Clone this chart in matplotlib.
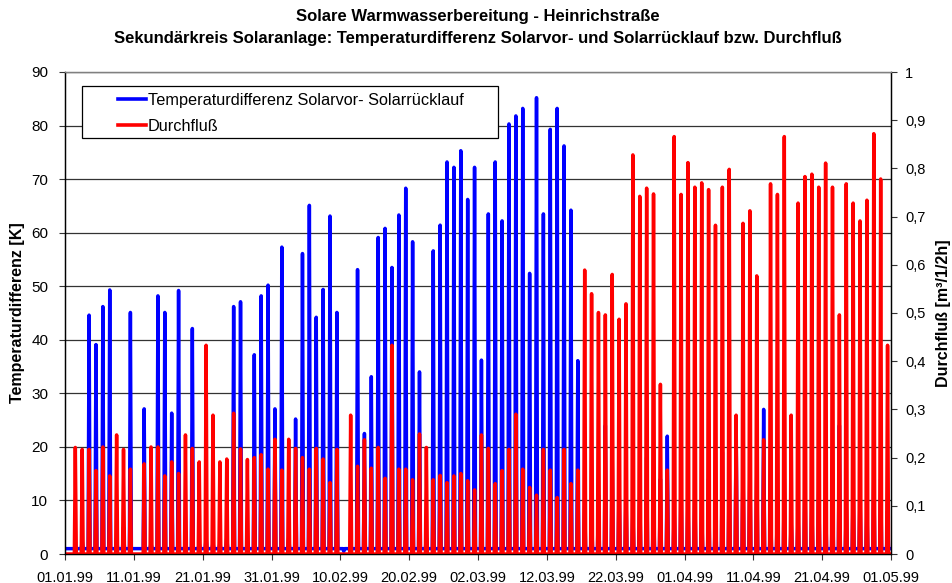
import matplotlib
matplotlib.use("Agg")
import matplotlib.pyplot as plt
from matplotlib.patches import Rectangle
import numpy as np

plt.rcParams['font.family'] = ['Liberation Sans', 'DejaVu Sans']

TITLE_1 = "Solare Warmwasserbereitung - Heinrichstraße"
TITLE_2 = "Sekundärkreis Solaranlage: Temperaturdifferenz Solarvor- und Solarrücklauf bzw. Durchfluß"
LEFT_LABEL = "Temperaturdifferenz [K]"
RIGHT_LABEL = "Durchfluß [m³/1/2h]"
LEGEND_LABELS = ["Temperaturdifferenz Solarvor- Solarrücklauf", "Durchfluß"]

# x tick labels, every 10 days starting 01.01.99
DATE_LABELS = ["01.01.99", "11.01.99", "21.01.99", "31.01.99", "10.02.99", "20.02.99",
               "02.03.99", "12.03.99", "22.03.99", "01.04.99", "11.04.99", "21.04.99",
               "01.05.99"]
RIGHT_TICKS = [0, 0.1, 0.2, 0.3, 0.4, 0.5, 0.6, 0.7, 0.8, 0.9, 1.0]
RIGHT_TICK_LABELS = ["0", "0,1", "0,2", "0,3", "0,4", "0,5", "0,6", "0,7", "0,8", "0,9", "1"]

# daily peak of the temperature difference [K], 01.01.99 .. 30.04.99
dt_peak = [1, 1.5, 2.5, 44.6, 39.1, 46.2, 49.3, 3, 5, 45.1,
           1, 27.1, 2, 48.2, 45.1, 26.3, 49.2, 3, 42.1, 2,
           3, 2, 2, 3, 46.2, 47.1, 2, 37.2, 48.2, 50.2,
           27.1, 57.3, 3, 25.2, 56.1, 65.1, 44.2, 49.4, 63.1, 45.1,
           0.5, 2, 53.1, 22.5, 33.1, 59.1, 60.8, 53.5, 63.3, 68.3,
           58.3, 34.0, 3, 56.6, 61.4, 73.2, 72.2, 75.3, 66.2, 72.2,
           36.2, 63.5, 73.2, 62.2, 80.3, 81.8, 83.2, 52.4, 85.2, 63.5,
           79.3, 83.2, 76.2, 64.2, 36.1, 9, 7, 11, 24, 18,
           13, 11, 8, 11, 18, 11, 14, 22, 8, 13,
           10, 11, 8, 14, 10, 19, 15, 23, 16, 16,
           15, 27, 9, 10, 14, 6, 7, 14, 9, 12,
           10, 13, 24, 9, 12, 11, 8, 14, 14, 8]
dt_base = 1.0

# daily peak of the flow [m³ per 1/2 h]
flow_peak = [0, 0.221, 0.217, 0.217, 0.173, 0.222, 0.162, 0.247, 0.217, 0.176,
             0, 0.187, 0.222, 0.222, 0.162, 0.191, 0.167, 0.247, 0.219, 0.191,
             0.433, 0.288, 0.191, 0.197, 0.292, 0.218, 0.196, 0.200, 0.206, 0.176,
             0.238, 0.174, 0.238, 0.219, 0.200, 0.176, 0.219, 0.197, 0.148, 0.217,
             0, 0.288, 0.182, 0.237, 0.178, 0.221, 0.157, 0.433, 0.176, 0.176,
             0.154, 0.249, 0.221, 0.154, 0.163, 0.148, 0.162, 0.167, 0.152, 0.133,
             0.247, 0.219, 0.146, 0.173, 0.217, 0.290, 0.176, 0.138, 0.122, 0.217,
             0.174, 0.117, 0.217, 0.146, 0.174, 0.589, 0.540, 0.501, 0.496, 0.580,
             0.487, 0.519, 0.828, 0.742, 0.759, 0.747, 0.352, 0.174, 0.866, 0.746,
             0.812, 0.761, 0.770, 0.756, 0.682, 0.761, 0.798, 0.288, 0.686, 0.712,
             0.577, 0.237, 0.768, 0.746, 0.866, 0.288, 0.728, 0.783, 0.788, 0.761,
             0.811, 0.761, 0.496, 0.768, 0.728, 0.691, 0.734, 0.872, 0.778, 0.433]


def spikes(peaks, base):
    # one narrow spike per day around noon
    xs, ys = [], []
    for d, p in enumerate(peaks):
        xs += [d, d + 0.36, d + 0.5, d + 0.64]
        ys += [base, base, p, base]
    xs.append(len(peaks))
    ys.append(base)
    return np.array(xs), np.array(ys)


W, H = 952, 583
L, R, T, B = 65, 891, 72, 554
fig = plt.figure(figsize=(W / 100, H / 100), dpi=100)
ax = fig.add_axes([L / W, 1 - B / H, (R - L) / W, (B - T) / H])
ax2 = ax.twinx()

x1, y1 = spikes(dt_peak, dt_base)
x2, y2 = spikes(flow_peak, 0)
l1, = ax.plot(x1, y1, color='#0000FF', lw=2.5)
l2, = ax2.plot(x2, y2, color='#FF0000', lw=2.5)

ax.set_xlim(0, 120)
ax.set_ylim(0, 90)
ax2.set_ylim(0, 1)
ax.set_xticks(np.arange(0, 121, 10))
ax.set_xticklabels(DATE_LABELS)
ax.set_yticks(np.arange(0, 91, 10))
ax2.set_yticks(RIGHT_TICKS)
ax2.set_yticklabels(RIGHT_TICK_LABELS)

ax.grid(axis='y', color='#333333', lw=0.9)
ax.set_axisbelow(True)
for a in (ax, ax2):
    a.tick_params(direction='out', length=4, width=0.8, labelsize=10.5, color='#333333')
    for s in a.spines.values():
        s.set_color('black')
        s.set_linewidth(0.9)
    a.spines['top'].set_color('#808080')
ax.tick_params(axis='y', pad=8, labelsize=11)
ax2.tick_params(axis='y', pad=6)
ax.tick_params(axis='x', pad=8)

ax.set_ylabel(LEFT_LABEL, fontsize=11.5, fontweight='bold')
ax.yaxis.set_label_coords((18 - L) / (R - L), 0.5)
ax.yaxis.label.set_va('center')
ax2.set_ylabel(RIGHT_LABEL, fontsize=11.5, fontweight='bold')
ax2.yaxis.set_label_coords((944 - L) / (R - L), 0.5)
ax2.yaxis.label.set_va('center')

fig.text(0.502, 1 - 17 / H, TITLE_1, ha='center', va='center', fontsize=12, fontweight='bold')
fig.text(0.502, 1 - 38 / H, TITLE_2, ha='center', va='center', fontsize=12, fontweight='bold')

# legend box drawn separately, entries placed inside it
box = Rectangle(((82 - L) / (R - L), 1 - (138 - T) / (B - T)), (498 - 82) / (R - L), 52 / (B - T),
                transform=ax2.transAxes, facecolor='white', edgecolor='black', lw=0.9, zorder=4)
ax2.add_patch(box)
leg = ax2.legend([l1, l2], LEGEND_LABELS, loc='upper left',
                 bbox_to_anchor=((118 - L) / (R - L), 1 - (93 - T) / (B - T)),
                 fontsize=11.7, frameon=False, borderpad=0, borderaxespad=0,
                 labelspacing=0.65, handlelength=1.75, handletextpad=0.1)
leg.set_zorder(5)
for h in leg.get_lines():
    h.set_linewidth(2.6)

fig.savefig("out.png", dpi=100)
